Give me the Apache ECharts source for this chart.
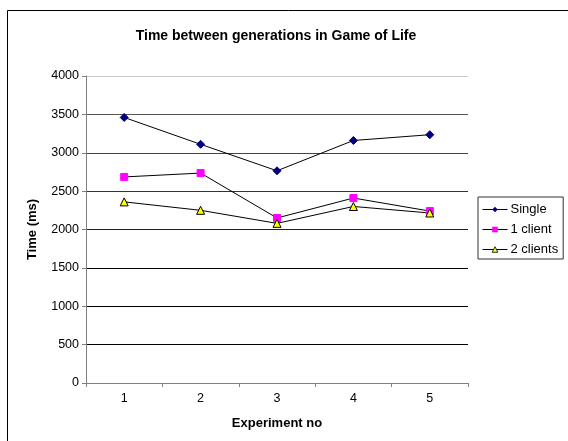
<!DOCTYPE html>
<html>
<head>
<meta charset="utf-8">
<script src="https://cdn.jsdelivr.net/npm/echarts@6/dist/echarts.min.js"></script>
<style>
  html, body { margin: 0; padding: 0; background: #fff; }
  #chart { width: 568px; height: 441px; }
</style>
</head>
<body>
<div id="chart"></div>
<script>
// Experiment numbers on the x axis
const experiments = ['1', '2', '3', '4', '5'];
// Time between generations (ms) for each setup
const singleTimes = [3460, 3110, 2765, 3160, 3235];
const oneClientTimes = [2685, 2735, 2150, 2410, 2240];
const twoClientTimes = [2360, 2250, 2080, 2300, 2215];

const chart = echarts.init(document.getElementById('chart'));
const font = 'Liberation Sans, Arial, sans-serif';

chart.setOption({
  animation: false,
  backgroundColor: '#fff',
  graphic: [{
    type: 'rect',
    shape: { x: 7.5, y: 10.5, width: 600, height: 500 },
    style: { fill: 'none', stroke: '#000', lineWidth: 1 },
    silent: true
  }],
  title: {
    text: 'Time between generations in Game of Life',
    left: 271,
    textAlign: 'center',
    top: 24,
    textStyle: { fontFamily: font, fontSize: 14, fontWeight: 'bold', color: '#000' }
  },
  legend: {
    orient: 'vertical',
    left: 478,
    top: 197,
    padding: [6, 5, 3, 4],
    itemGap: 7,
    itemWidth: 25,
    itemHeight: 7,
    borderColor: '#333',
    borderWidth: 1,
    backgroundColor: '#fff',
    lineStyle: { width: 1, color: '#000' },
    textStyle: { fontFamily: font, fontSize: 13, color: '#000', padding: [0, 0, 0, -2] },
    data: [
      { name: 'Single' },
      { name: '1 client' },
      { name: '2 clients', itemStyle: { color: '#ffff00', borderColor: '#000', borderWidth: 0.8 } }
    ]
  },
  grid: { left: 86, right: 100, top: 76, bottom: 58 },
  xAxis: {
    type: 'category',
    data: experiments,
    boundaryGap: true,
    name: 'Experiment no',
    nameLocation: 'middle',
    nameGap: 34,
    nameTextStyle: { fontFamily: font, fontSize: 13, fontWeight: 'bold', color: '#000' },
    axisLine: { lineStyle: { color: '#808080', width: 1 } },
    axisTick: { show: true, alignWithLabel: false, length: 4, lineStyle: { color: '#808080' } },
    axisLabel: { fontFamily: font, fontSize: 12.5, color: '#000', margin: 9 },
    splitLine: { show: false }
  },
  yAxis: {
    type: 'value',
    min: 0,
    max: 4000,
    interval: 500,
    name: 'Time (ms)',
    nameLocation: 'middle',
    nameGap: 47,
    nameRotate: 90,
    nameTextStyle: { fontFamily: font, fontSize: 13, fontWeight: 'bold', color: '#000' },
    axisLine: { show: true, lineStyle: { color: '#808080', width: 1 } },
    axisTick: { show: true, length: 4, inside: false, lineStyle: { color: '#808080' } },
    axisLabel: { fontFamily: font, fontSize: 12.5, color: '#000', margin: 7, formatter: v => String(v) },
    splitLine: {
      show: true,
      lineStyle: {
        color: ['#000', '#000', '#000', '#000', '#222', '#333', '#444', '#555', '#c8c8c8'],
        width: 1
      }
    }
  },
  series: [
    {
      name: 'Single',
      type: 'line',
      data: singleTimes,
      symbol: 'diamond',
      symbolSize: 8,
      itemStyle: { color: '#000080', borderColor: '#000080' },
      lineStyle: { color: '#000', width: 1 }
    },
    {
      name: '1 client',
      type: 'line',
      data: oneClientTimes,
      symbol: 'rect',
      symbolSize: 7,
      itemStyle: { color: '#ff00ff', borderColor: '#ff00ff' },
      lineStyle: { color: '#000', width: 1 }
    },
    {
      name: '2 clients',
      type: 'line',
      data: twoClientTimes,
      symbol: 'triangle',
      symbolSize: 8,
      itemStyle: { color: '#ffff00', borderColor: '#000', borderWidth: 1 },
      lineStyle: { color: '#000', width: 1 }
    }
  ]
});
</script>
</body>
</html>
